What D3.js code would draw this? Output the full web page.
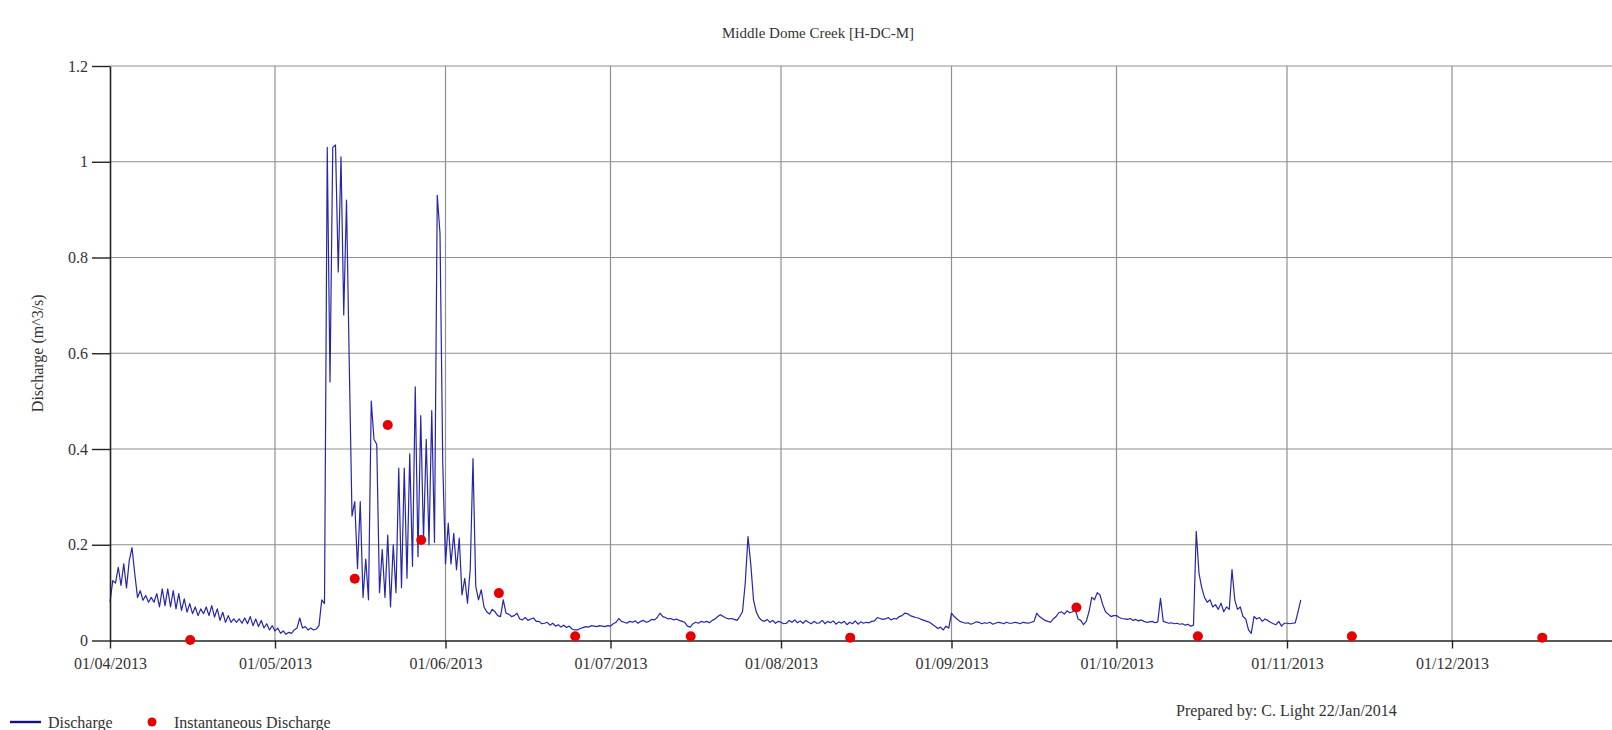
<!DOCTYPE html>
<html>
<head>
<meta charset="utf-8">
<script src="https://cdn.jsdelivr.net/npm/d3@7"></script>
<style>
  html, body { margin: 0; padding: 0; background: #fff; overflow: hidden; }
  svg { display: block; }
  text { font-family: "Liberation Serif", "Times New Roman", serif; fill: #333; }
</style>
</head>
<body>
<svg id="chart" width="1612" height="730"></svg>
<script>
// Continuous discharge record (m^3/s), one reading every 12 hours from the series start
const seriesStart = "2013-04-01 00:00";
const stepHours = 12;
const dischargeValues = [
  0.080,0.125, 0.120,0.153, 0.115,0.160, 0.110,0.167, 0.194,0.140, 0.090,0.104, 0.084,0.094, 0.080,0.090, 0.080,0.098, 0.070,0.108,
  0.073,0.108, 0.070,0.104, 0.066,0.098, 0.063,0.087, 0.059,0.077, 0.056,0.070, 0.052,0.066, 0.056,0.070, 0.052,0.073, 0.049,0.066,
  0.042,0.059, 0.038,0.052, 0.038,0.045, 0.038,0.045, 0.036,0.047, 0.035,0.050, 0.031,0.045, 0.029,0.042, 0.026,0.035, 0.022,0.031,
  0.020,0.026, 0.015,0.020, 0.013,0.017, 0.015,0.022, 0.026,0.047, 0.026,0.029, 0.022,0.026, 0.022,0.024, 0.031,0.085, 0.077,1.030,
  0.540,1.030, 1.035,0.770, 1.010,0.680, 0.920,0.580, 0.260,0.290, 0.150,0.290, 0.090,0.170, 0.085,0.500, 0.420,0.410, 0.100,0.190,
  0.090,0.220, 0.070,0.200, 0.100,0.360, 0.110,0.360, 0.130,0.390, 0.155,0.530, 0.175,0.470, 0.210,0.420, 0.200,0.480, 0.205,0.930,
  0.850,0.370, 0.160,0.245, 0.160,0.224, 0.148,0.214, 0.095,0.130, 0.078,0.150, 0.380,0.113, 0.085,0.106, 0.070,0.060, 0.055,0.065,
  0.060,0.052, 0.050,0.085, 0.057,0.055, 0.050,0.052, 0.057,0.045, 0.043,0.048, 0.042,0.045, 0.047,0.040, 0.040,0.035, 0.036,0.038,
  0.032,0.036, 0.030,0.033, 0.028,0.032, 0.027,0.030, 0.024,0.022, 0.022,0.025, 0.027,0.029, 0.028,0.031, 0.030,0.029, 0.031,0.030,
  0.029,0.031, 0.030,0.035, 0.038,0.046, 0.040,0.038, 0.036,0.040, 0.038,0.041, 0.036,0.040, 0.042,0.038, 0.040,0.044, 0.043,0.048,
  0.057,0.050, 0.048,0.045, 0.046,0.043, 0.045,0.042, 0.040,0.038, 0.030,0.028, 0.035,0.038, 0.036,0.040, 0.038,0.040, 0.037,0.042,
  0.045,0.050, 0.054,0.050, 0.047,0.045, 0.046,0.044, 0.042,0.050, 0.060,0.120, 0.217,0.160, 0.085,0.060, 0.048,0.042, 0.040,0.044,
  0.038,0.042, 0.036,0.040, 0.038,0.035, 0.036,0.042, 0.038,0.043, 0.037,0.041, 0.036,0.042, 0.038,0.035, 0.040,0.036, 0.037,0.042,
  0.035,0.040, 0.037,0.041, 0.034,0.039, 0.036,0.040, 0.033,0.038, 0.035,0.041, 0.034,0.039, 0.036,0.038, 0.037,0.040, 0.041,0.048,
  0.046,0.044, 0.045,0.048, 0.043,0.046, 0.045,0.050, 0.052,0.057, 0.056,0.052, 0.050,0.048, 0.047,0.044, 0.042,0.040, 0.038,0.034,
  0.030,0.025, 0.028,0.022, 0.030,0.026, 0.057,0.050, 0.045,0.040, 0.038,0.036, 0.037,0.034, 0.036,0.039, 0.038,0.035, 0.037,0.036,
  0.038,0.034, 0.036,0.038, 0.037,0.035, 0.038,0.036, 0.036,0.038, 0.037,0.035, 0.038,0.037, 0.036,0.038, 0.040,0.057, 0.050,0.046,
  0.042,0.040, 0.038,0.045, 0.050,0.058, 0.060,0.055, 0.062,0.058, 0.060,0.065, 0.045,0.042, 0.033,0.040, 0.060,0.090, 0.085,0.100,
  0.095,0.075, 0.060,0.055, 0.050,0.052, 0.052,0.048, 0.046,0.045, 0.044,0.046, 0.042,0.044, 0.041,0.043, 0.040,0.038, 0.039,0.040,
  0.037,0.039, 0.088,0.040, 0.038,0.036, 0.037,0.035, 0.036,0.034, 0.035,0.032, 0.034,0.030, 0.032,0.228, 0.140,0.110, 0.090,0.080,
  0.085,0.070, 0.075,0.065, 0.078,0.060, 0.070,0.065, 0.148,0.085, 0.065,0.070, 0.050,0.045, 0.022,0.015, 0.050,0.045, 0.048,0.040,
  0.045,0.042, 0.038,0.035, 0.033,0.040, 0.030,0.036, 0.036,0.035, 0.036,0.037, 0.060,0.085
];

// Instantaneous (manual) discharge measurements
const sampleTimes = [
  "2013-04-15 14:00", "2013-05-15 12:00", "2013-05-21 12:00", "2013-05-27 14:00",
  "2013-06-10 17:00", "2013-06-24 14:00", "2013-07-15 14:00", "2013-08-13 14:00",
  "2013-09-23 17:00", "2013-10-15 19:00", "2013-11-12 19:00", "2013-12-17 10:00"
];
const sampleValues = [0.001, 0.129, 0.450, 0.210, 0.099, 0.009, 0.009, 0.006, 0.069, 0.009, 0.009, 0.006];

// Axis ticks
const monthTicks = ["2013-04-01", "2013-05-01", "2013-06-01", "2013-07-01", "2013-08-01",
                    "2013-09-01", "2013-10-01", "2013-11-01", "2013-12-01"];
const yTicks = [0, 0.2, 0.4, 0.6, 0.8, 1, 1.2];
const xDomain = ["2013-04-01 00:00", "2014-01-01 00:00"];

const titleText = "Middle Dome Creek [H-DC-M]";
const yLabel = "Discharge (m^3/s)";
const legendLine = "Discharge";
const legendDots = "Instantaneous Discharge";
const footerText = "Prepared by: C. Light 22/Jan/2014";

// ---- layout ----
const W = 1612, H = 730;
const plotLeft = 110, plotTop = 66, plotBottom = 640.5;

const parseTime = d3.utcParse("%Y-%m-%d %H:%M");
const parseDay = d3.utcParse("%Y-%m-%d");

const x = d3.scaleUtc()
  .domain(xDomain.map(parseTime))
  .range([plotLeft, plotLeft + 275 * 5.5]);
const y = d3.scaleLinear().domain([0, 1.2]).range([plotBottom, plotTop]);

const start = parseTime(seriesStart);
const series = dischargeValues.map((v, i) => ({ t: d3.utcHour.offset(start, i * stepHours), v }));
const samples = sampleTimes.map((s, i) => ({ t: parseTime(s), v: sampleValues[i] }));
const months = monthTicks.map(parseDay);

const svg = d3.select("#chart");

// title
svg.append("text")
  .attr("x", 818).attr("y", 33)
  .attr("dy", "0.35em")
  .attr("text-anchor", "middle")
  .style("font-size", "15px")
  .text(titleText);

// grid
const grid = svg.append("g").attr("stroke", "#8f8f8f").attr("stroke-width", 1.2);
grid.selectAll("line.h").data(yTicks.filter(v => v > 0)).join("line")
  .attr("x1", plotLeft).attr("x2", W)
  .attr("y1", d => y(d)).attr("y2", d => y(d));
grid.selectAll("line.v").data(months.slice(1)).join("line")
  .attr("x1", d => x(d)).attr("x2", d => x(d))
  .attr("y1", y(0)).attr("y2", y(1.2));

// discharge line
const line = d3.line().x(d => x(d.t)).y(d => y(d.v));
svg.append("path")
  .datum(series)
  .attr("fill", "none")
  .attr("stroke", "#2626a8")
  .attr("stroke-width", 1.2)
  .attr("stroke-linejoin", "round")
  .attr("d", line);

// axes
const xAxis = d3.axisBottom(x)
  .tickValues(months)
  .tickSize(8)
  .tickSizeOuter(0)
  .tickPadding(9)
  .tickFormat(d3.utcFormat("%d/%m/%Y"));
const gx = svg.append("g").attr("transform", `translate(0,${plotBottom})`).call(xAxis);
gx.select(".domain").attr("stroke", "#222").attr("stroke-width", 1.6);
gx.selectAll(".tick line").attr("stroke", "#222").attr("stroke-width", 1.4);
gx.selectAll(".tick text")
  .style("font-size", "16px")
  .style("font-family", "'Liberation Serif', serif")
  .attr("fill", "#333");

const yAxis = d3.axisLeft(y)
  .tickValues(yTicks)
  .tickSize(18)
  .tickSizeOuter(0)
  .tickPadding(4)
  .tickFormat(d3.format("~g"));
const gy = svg.append("g").attr("transform", `translate(${plotLeft},0)`).call(yAxis);
gy.select(".domain").attr("stroke", "#222").attr("stroke-width", 1.6);
gy.selectAll(".tick line").attr("stroke", "#222").attr("stroke-width", 1.4);
gy.selectAll(".tick text")
  .style("font-size", "16px")
  .style("font-family", "'Liberation Serif', serif")
  .attr("fill", "#333");

// instantaneous measurements
svg.append("g").selectAll("circle").data(samples).join("circle")
  .attr("cx", d => x(d.t))
  .attr("cy", d => y(d.v))
  .attr("r", 5)
  .attr("fill", "#e60000");

// y-axis title
svg.append("text")
  .attr("transform", `translate(37,${(plotTop + plotBottom) / 2}) rotate(-90)`)
  .attr("text-anchor", "middle")
  .attr("dy", "0.35em")
  .style("font-size", "16px")
  .text(yLabel);

// legend
const lg = svg.append("g");
lg.append("line")
  .attr("x1", 10).attr("x2", 41).attr("y1", 722).attr("y2", 722)
  .attr("stroke", "#10108c").attr("stroke-width", 2.4);
lg.append("text").attr("x", 48).attr("y", 722).attr("dy", "0.35em")
  .style("font-size", "16px").text(legendLine);
lg.append("circle").attr("cx", 152).attr("cy", 722).attr("r", 4.5).attr("fill", "#e60000");
lg.append("text").attr("x", 174).attr("y", 722).attr("dy", "0.35em")
  .style("font-size", "16px").text(legendDots);

// footer
svg.append("text")
  .attr("x", 1176).attr("y", 710).attr("dy", "0.35em")
  .style("font-size", "16px")
  .text(footerText);
</script>
</body>
</html>
